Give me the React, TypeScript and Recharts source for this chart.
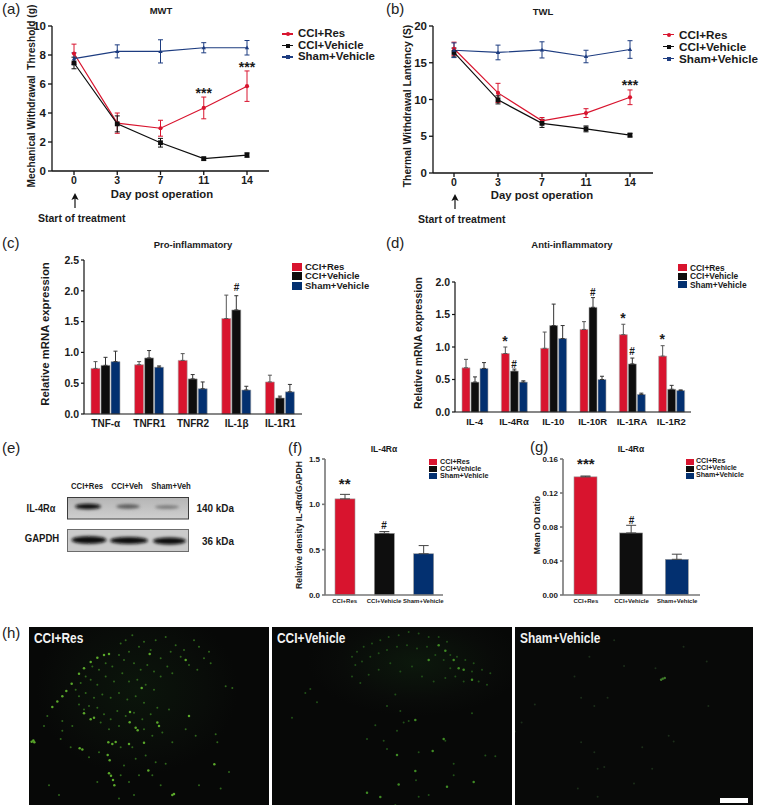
import {
  Bar,
  BarChart,
  ErrorBar,
  Line,
  LineChart,
  ReferenceDot,
  Scatter,
  ScatterChart,
  XAxis,
  YAxis,
} from 'recharts';

const FONT = '"Liberation Sans", Arial, sans-serif';
const RED = '#d8142e';
const BLACK = '#0e0e0e';
const NAVY = '#033070';
const LINE_NAVY = '#1d3c80';
const INK = '#1a1a1a';

const days = ['0', '3', '7', '11', '14'];

const mwtRes = [8.1, 3.3, 2.95, 4.35, 5.85];
const mwtResErr = [0.65, 0.7, 0.55, 0.75, 1.05];
const mwtVeh = [7.45, 3.25, 1.95, 0.85, 1.1];
const mwtVehErr = [0.4, 0.55, 0.3, 0.1, 0.15];
const mwtSham = [7.75, 8.25, 8.25, 8.5, 8.5];
const mwtShamErr = [0.4, 0.45, 0.8, 0.35, 0.5];

const twlRes = [16.9, 10.9, 7.1, 8.15, 10.3];
const twlResErr = [0.9, 1.3, 0.45, 0.6, 1.0];
const twlVeh = [16.4, 9.95, 6.75, 6.0, 5.15];
const twlVehErr = [0.6, 0.55, 0.55, 0.4, 0.25];
const twlSham = [16.7, 16.4, 16.75, 15.85, 16.8];
const twlShamErr = [1.0, 1.0, 1.1, 0.85, 1.2];

const proCats = ['TNF-α', 'TNFR1', 'TNFR2', 'IL-1β', 'IL-1R1'];
const proRes = [0.74, 0.8, 0.87, 1.55, 0.52];
const proResErr = [0.11, 0.05, 0.11, 0.38, 0.11];
const proVeh = [0.79, 0.91, 0.57, 1.69, 0.26];
const proVehErr = [0.13, 0.12, 0.07, 0.23, 0.03];
const proSham = [0.85, 0.76, 0.41, 0.39, 0.36];
const proShamErr = [0.17, 0.02, 0.11, 0.06, 0.12];

const antiCats = ['IL-4', 'IL-4Rα', 'IL-10', 'IL-10R', 'IL-1RA', 'IL-1R2'];
const antiRes = [0.68, 0.9, 0.98, 1.27, 1.19, 0.86];
const antiResErr = [0.13, 0.1, 0.25, 0.12, 0.16, 0.16];
const antiVeh = [0.46, 0.63, 1.33, 1.61, 0.74, 0.35];
const antiVehErr = [0.08, 0.03, 0.33, 0.15, 0.09, 0.06];
const antiSham = [0.67, 0.46, 1.13, 0.5, 0.27, 0.33];
const antiShamErr = [0.09, 0.02, 0.2, 0.05, 0.02, 0.01];

const groupCats = ['CCI+Res', 'CCI+Vehicle', 'Sham+Vehicle'];
const densityVals = [1.06, 0.68, 0.455];
const densityErr = [0.05, 0.02, 0.09];
const odVals = [0.139, 0.073, 0.042];
const odErr = [0.001, 0.009, 0.006];

const res1Bright = [
  [8, 348], [13, 344], [16, 350], [70, 243], [85, 226], [100, 210], [112, 194], [128, 172], [150, 142], [165, 125],
  [185, 106], [205, 93], [225, 85], [240, 82], [152, 368], [160, 372], [238, 350], [250, 355], [260, 349], [320, 306],
  [326, 313], [302, 289], [240, 444], [246, 451], [252, 464], [256, 480], [236, 388], [242, 404], [435, 507], [430, 510],
  [345, 351], [303, 258], [338, 185], [480, 270], [385, 290], [390, 300], [358, 435], [556, 416], [470, 100], [362, 82],
  [185, 280], [195, 275], [165, 262], [300, 355],
];
const res1Dim = [
  [275, 50], [290, 40], [310, 25], [330, 60], [345, 45], [365, 70], [380, 40], [395, 95], [410, 30], [425, 75],
  [440, 55], [455, 90], [465, 70], [480, 115], [495, 40], [510, 60], [525, 95], [540, 75], [545, 110], [505, 130],
  [270, 85], [285, 100], [300, 75], [315, 110], [335, 130], [355, 115], [375, 135], [395, 150], [415, 120], [430, 140],
  [250, 120], [230, 110], [210, 130], [190, 120], [170, 150], [155, 170], [140, 190], [185, 160], [205, 175], [230, 150],
  [255, 165], [280, 140], [300, 165], [325, 160], [350, 175], [375, 190], [150, 210], [170, 200], [195, 215], [220, 205],
  [245, 215], [270, 200], [295, 220], [320, 210], [345, 230], [150, 235], [165, 250], [180, 240], [205, 245], [225, 265],
  [245, 280], [265, 255], [290, 270], [315, 260], [340, 280], [365, 265], [385, 245], [215, 290], [240, 310], [270, 300],
  [345, 310], [370, 330], [400, 320], [430, 350], [470, 310], [500, 330], [560, 325], [565, 350], [590, 180], [610, 185],
  [130, 300], [95, 340], [100, 315], [125, 365], [180, 395], [210, 380], [275, 365], [310, 365], [285, 420], [320, 400],
  [350, 390], [380, 410], [410, 415], [275, 450], [300, 470], [330, 450], [370, 450], [395, 480], [315, 510], [270, 520],
  [60, 480], [90, 510], [205, 470], [510, 480], [575, 490], [600, 440], [100, 285], [45, 300], [55, 270], [420, 250],
];
const veh1Bright = [
  [430, 282], [515, 340], [380, 478], [430, 437], [470, 100], [520, 72], [545, 100], [575, 130], [600, 160], [375, 388],
  [482, 376], [285, 503], [325, 516], [525, 485], [605, 470], [500, 55], [560, 125],
];
const veh1Dim = [
  [240, 90], [255, 75], [275, 60], [300, 50], [325, 40], [350, 30], [380, 25], [410, 15], [440, 20], [470, 30],
  [500, 30], [525, 45], [250, 115], [270, 105], [295, 90], [320, 80], [345, 70], [375, 60], [405, 55], [435, 65],
  [465, 60], [490, 85], [515, 100], [535, 85], [555, 90], [580, 100], [605, 110], [630, 130], [655, 140], [535, 125],
  [550, 150], [575, 165], [600, 135], [620, 165], [645, 175], [520, 155], [240, 150], [265, 170], [290, 145], [320, 130],
  [355, 110], [385, 135], [420, 120], [450, 150], [485, 165], [370, 205], [345, 240], [385, 255], [410, 285], [395, 290],
  [310, 298], [285, 340], [335, 345], [375, 315], [345, 370], [432, 465], [440, 380], [545, 415], [520, 345], [370, 540],
  [115, 188], [100, 200], [60, 275], [135, 228], [600, 262], [640, 390], [670, 392], [545, 450], [440, 515], [470, 510],
];
const sham1Bright = [[447, 157], [442, 160], [453, 155]];
const sham1Dim = [
  [330, 118], [250, 430], [270, 425], [385, 365], [480, 347], [240, 380], [300, 40], [180, 150], [60, 235], [20, 290],
  [415, 430], [360, 475], [200, 350], [240, 240], [200, 215], [510, 60], [580, 105], [585, 240], [465, 330], [280, 215],
  [0, 317], [190, 490], [250, 515], [225, 90], [425, 125],
];

const rows = (a: number[], ae: number[], b: number[], be: number[], c: number[], ce: number[]) =>
  a.map((_, i) => ({ res: a[i], resErr: ae[i], veh: b[i], vehErr: be[i], sham: c[i], shamErr: ce[i] }));

const mwtData = rows(mwtRes, mwtResErr, mwtVeh, mwtVehErr, mwtSham, mwtShamErr).map((r, i) => ({ ...r, day: days[i] }));
const twlData = rows(twlRes, twlResErr, twlVeh, twlVehErr, twlSham, twlShamErr).map((r, i) => ({ ...r, day: days[i] }));
const proData = rows(proRes, proResErr, proVeh, proVehErr, proSham, proShamErr).map((r, i) => ({ ...r, cat: proCats[i] }));
const antiData = rows(antiRes, antiResErr, antiVeh, antiVehErr, antiSham, antiShamErr).map((r, i) => ({ ...r, cat: antiCats[i] }));
const densityData = groupCats.map((cat, i) => ({ cat, val: densityVals[i], err: densityErr[i], fill: [RED, BLACK, NAVY][i] }));
const odData = groupCats.map((cat, i) => ({ cat, val: odVals[i], err: odErr[i], fill: [RED, BLACK, NAVY][i] }));

const toPoints = (list: number[][]) => list.map(([x, y]) => ({ x, y }));

function T({ x, y, size = 11, anchor = 'left', children, color = INK, bold = true, rotate = false, sx = 1 }: any) {
  const shift = anchor === 'center' ? '-50%' : anchor === 'right' ? '-100%' : '0';
  const origin = anchor === 'center' ? '50% 50%' : anchor === 'right' ? '100% 50%' : '0 50%';
  return (
    <div
      style={{
        position: 'absolute',
        left: x,
        top: y,
        transform: rotate ? 'translate(-50%,-50%) rotate(-90deg)' : `translate(${shift},-50%) scaleX(${sx})`,
        transformOrigin: rotate ? '50% 50%' : origin,
        fontFamily: FONT,
        fontSize: size,
        fontWeight: bold ? 700 : 400,
        color,
        whiteSpace: 'pre',
        lineHeight: 1,
      }}
    >
      {children}
    </div>
  );
}

function PanelTag({ x, y, children }: any) {
  return (
    <T x={x} y={y} size={15} bold={false} color="#222">
      {children}
    </T>
  );
}

const seriesColors = [RED, BLACK, LINE_NAVY];
const legendNames = ['CCI+Res', 'CCI+Vehicle', 'Sham+Vehicle'];

function LineLegend({ iconX, textX, ys, size }: any) {
  return (
    <>
      {legendNames.map((name, i) => (
        <div key={name}>
          <div style={{ position: 'absolute', left: iconX, top: ys[i] - 0.75, width: 11, height: 1.5, background: seriesColors[i] }} />
          <div
            style={{
              position: 'absolute',
              left: iconX + 3.5,
              top: ys[i] - 2,
              width: 4,
              height: 4,
              borderRadius: i === 0 ? 2 : 0,
              background: seriesColors[i],
            }}
          />
          <T x={textX} y={ys[i]} size={size}>
            {name}
          </T>
        </div>
      ))}
    </>
  );
}

function SwatchLegend({ x, w, h, textX, ys, size }: any) {
  return (
    <>
      {legendNames.map((name, i) => (
        <div key={name}>
          <div
            style={{
              position: 'absolute',
              left: x,
              top: ys[i] - h / 2,
              width: w,
              height: h,
              background: [RED, BLACK, NAVY][i],
            }}
          />
          <T x={textX} y={ys[i]} size={size}>
            {name}
          </T>
        </div>
      ))}
    </>
  );
}

function StartArrow({ x, y }: any) {
  return (
    <svg style={{ position: 'absolute', left: x - 5, top: y, overflow: 'visible' }} width={10} height={16}>
      <line x1={5} y1={4} x2={5} y2={15} stroke="#111" strokeWidth={1.2} />
      <polygon points="5,0 1.4,7 5,5.6 8.6,7" fill="#111" />
    </svg>
  );
}

const circleDot = (color: string) => (p: any) => <circle key={p.index} cx={p.cx} cy={p.cy} r={2.1} fill={color} />;
const squareDot = (color: string) => (p: any) => <rect key={p.index} x={p.cx - 2.4} y={p.cy - 2.4} width={4.8} height={4.8} fill={color} />;
const triDot = (color: string) => (p: any) => (
  <polygon key={p.index} points={`${p.cx},${p.cy - 2.2} ${p.cx - 2.2},${p.cy + 1.6} ${p.cx + 2.2},${p.cy + 1.6}`} fill={color} />
);

const markLabel = (text: string, size: number, dx = 0) => (p: any) => (
  <text
    x={p.viewBox.x + dx}
    y={p.viewBox.y}
    textAnchor="middle"
    fontFamily={FONT}
    fontWeight={700}
    fontSize={size}
    fill={INK}
  >
    {text}
  </text>
);

function TimeCourse({ left, width, data, top, ticks, stars, padL, padR, marginRight }: any) {
  return (
    <div style={{ position: 'absolute', left, top: 0 }}>
      <LineChart
        width={width}
        height={215}
        data={data}
        margin={{ top: 26, right: marginRight, left: 12, bottom: top }}
      >
        <XAxis
          dataKey="day"
          padding={{ left: padL, right: padR }}
          height={30}
          tickSize={4}
          stroke="#111"
          strokeWidth={1.3}
          tick={{ fontFamily: FONT, fontSize: 10.5, fontWeight: 700, fill: INK }}
        />
        <YAxis
          width={40}
          domain={[ticks[0], ticks[ticks.length - 1]]}
          ticks={ticks}
          tickSize={4}
          stroke="#111"
          strokeWidth={1.3}
          tick={{ fontFamily: FONT, fontSize: 11.5, fontWeight: 700, fill: INK }}
        />
        <Line dataKey="res" stroke={RED} strokeWidth={1.2} dot={circleDot(RED)} isAnimationActive={false}>
          <ErrorBar dataKey="resErr" width={2.5} stroke={RED} strokeWidth={1} isAnimationActive={false} />
        </Line>
        <Line dataKey="veh" stroke={BLACK} strokeWidth={1.2} dot={squareDot(BLACK)} isAnimationActive={false}>
          <ErrorBar dataKey="vehErr" width={2.5} stroke={BLACK} strokeWidth={1} isAnimationActive={false} />
        </Line>
        <Line dataKey="sham" stroke={LINE_NAVY} strokeWidth={1.2} dot={triDot(LINE_NAVY)} isAnimationActive={false}>
          <ErrorBar dataKey="shamErr" width={2.5} stroke={LINE_NAVY} strokeWidth={1} isAnimationActive={false} />
        </Line>
        {stars.map((s: any) => (
          <ReferenceDot key={s.at} x={s.at} y={s.y} r={0} stroke="none" label={{ content: markLabel('***', 14) }} />
        ))}
      </LineChart>
    </div>
  );
}

function GroupedBars({ left, top, width, height, data, ticks, margin, barSize, tickSize, marks, step, catSize }: any) {
  return (
    <div style={{ position: 'absolute', left, top }}>
      <BarChart width={width} height={height} data={data} margin={margin} barSize={barSize} barGap={1}>
        <XAxis
          dataKey="cat"
          height={24}
          tickLine={false}
          tickMargin={0}
          interval={0}
          stroke="#111"
          strokeWidth={1.2}
          tick={{ fontFamily: FONT, fontSize: catSize, fontWeight: 700, fill: INK }}
        />
        <YAxis
          width={40}
          domain={[0, ticks[ticks.length - 1]]}
          ticks={ticks}
          tickSize={3}
          stroke="#111"
          strokeWidth={1.2}
          tickFormatter={(v: number) => v.toFixed(1)}
          tick={{ fontFamily: FONT, fontSize: tickSize, fontWeight: 700, fill: INK }}
        />
        <Bar dataKey="res" fill={RED} stroke="#a9a9a9" strokeWidth={0.6} isAnimationActive={false}>
          <ErrorBar dataKey={(d: any) => [0, d.resErr]} width={2} stroke="#555" strokeWidth={1} isAnimationActive={false} />
        </Bar>
        <Bar dataKey="veh" fill={BLACK} stroke="#a9a9a9" strokeWidth={0.6} isAnimationActive={false}>
          <ErrorBar dataKey={(d: any) => [0, d.vehErr]} width={2} stroke="#333" strokeWidth={1} isAnimationActive={false} />
        </Bar>
        <Bar dataKey="sham" fill={NAVY} stroke="#a9a9a9" strokeWidth={0.6} isAnimationActive={false}>
          <ErrorBar dataKey={(d: any) => [0, d.shamErr]} width={2} stroke="#333" strokeWidth={1} isAnimationActive={false} />
        </Bar>
        {marks.map((m: any) => (
          <ReferenceDot
            key={`${m.cat}${m.group}`}
            x={m.cat}
            y={m.y}
            r={0}
            stroke="none"
            label={{ content: markLabel(m.text, m.text === '#' ? 10 : 14, (m.group - 1) * step) }}
          />
        ))}
      </BarChart>
    </div>
  );
}

function SingleBars({ left, top, width, data, ticks, digits, margin, barSize, marks, axisColor }: any) {
  return (
    <div style={{ position: 'absolute', left, top }}>
      <BarChart width={width} height={175} data={data} margin={margin} barSize={barSize}>
        <XAxis
          dataKey="cat"
          height={20}
          tickLine={false}
          tickSize={0}
          tickMargin={4}
          interval={0}
          stroke={axisColor}
          strokeWidth={1.6}
          tick={{ fontFamily: FONT, fontSize: 6, fontWeight: 700, fill: INK }}
        />
        <YAxis
          width={40}
          domain={[0, ticks[ticks.length - 1]]}
          ticks={ticks}
          tickSize={3}
          stroke={axisColor}
          strokeWidth={1.6}
          tickFormatter={(v: number) => v.toFixed(digits)}
          tick={{ fontFamily: FONT, fontSize: 8, fontWeight: 700, fill: INK }}
        />
        <Bar dataKey="val" shape={(p: any) => <rect x={p.x} y={p.y} width={p.width} height={p.height} fill={p.payload.fill} stroke="#999" strokeWidth={0.6} />} isAnimationActive={false}>
          <ErrorBar dataKey={(d: any) => [0, d.err]} width={5} stroke="#444" strokeWidth={1} isAnimationActive={false} />
        </Bar>
        {marks.map((m: any) => (
          <ReferenceDot key={m.cat} x={m.cat} y={m.y} r={0} stroke="none" label={{ content: markLabel(m.text, m.text === '#' ? 10 : 15) }} />
        ))}
      </BarChart>
    </div>
  );
}

function Blot() {
  return (
    <svg style={{ position: 'absolute', left: 0, top: 0 }} width={300} height={600}>
      <defs>
        <filter id="blotBlur" x="-30%" y="-80%" width="160%" height="260%">
          <feGaussianBlur stdDeviation="1.4" />
        </filter>
        <linearGradient id="blotBg" x1="0" y1="0" x2="0" y2="1">
          <stop offset="0" stopColor="#b5b5b5" />
          <stop offset="1" stopColor="#cfcfcf" />
        </linearGradient>
      </defs>
      <rect x={67.5} y={497.5} width={121} height={21.5} fill="url(#blotBg)" stroke="#3c3c3c" strokeWidth={1} />
      <ellipse cx={88} cy={506.5} rx={13} ry={2.8} fill="#0d0d0d" filter="url(#blotBlur)" />
      <ellipse cx={128} cy={506.5} rx={12} ry={2.2} fill="#5a5a5a" filter="url(#blotBlur)" />
      <ellipse cx={167} cy={507} rx={12} ry={1.8} fill="#767676" filter="url(#blotBlur)" />
      <rect x={67.5} y={529.5} width={121} height={22} fill="#cbcbcb" stroke="#6c6c6c" strokeWidth={1} />
      <ellipse cx={89} cy={540} rx={17.5} ry={3.8} fill="#0a0a0a" filter="url(#blotBlur)" />
      <ellipse cx={129} cy={540.5} rx={19} ry={3.6} fill="#0a0a0a" filter="url(#blotBlur)" />
      <ellipse cx={169.5} cy={541} rx={16.5} ry={3.4} fill="#0a0a0a" filter="url(#blotBlur)" />
    </svg>
  );
}

const speck = (color: string, r: number) => (p: any) => <circle cx={p.cx} cy={p.cy} r={r} fill={color} />;

function Micrograph({ left, width, bright, dim, glow, label, sx, brightColor, dimColor }: any) {
  return (
    <div style={{ position: 'absolute', left, top: 627, width, height: 178, background: glow }}>
      <div style={{ filter: 'blur(0.3px)' }}>
        <ScatterChart width={width} height={178} margin={{ top: 0, right: 0, bottom: 0, left: 0 }}>
          <XAxis type="number" dataKey="x" domain={[0, 720]} hide />
          <YAxis type="number" dataKey="y" domain={[0, 540]} reversed hide />
          <Scatter data={toPoints(dim)} shape={speck(dimColor, 1)} isAnimationActive={false} />
          <Scatter data={toPoints(bright)} shape={speck(brightColor, 1.25)} isAnimationActive={false} />
        </ScatterChart>
      </div>
      <T x={4.5} y={11} size={14} color="#f2f2f2" sx={sx}>
        {label}
      </T>
    </div>
  );
}

export default function App() {
  return (
    <div style={{ position: 'relative', width: 760, height: 809, background: '#fff', overflow: 'hidden' }}>
      <style>{'body{margin:0}'}</style>

      {/* (a) */}
      <PanelTag x={2} y={8}>(a)</PanelTag>
      <T x={161} y={11} anchor="center" size={9.5}>MWT</T>
      <TimeCourse
        left={0}
        width={290}
        top={14}
        marginRight={21}
        data={mwtData}
        ticks={[0, 2, 4, 6, 8, 10]}
        padL={22}
        padR={22}
        stars={[{ at: '11', y: 5.05 }, { at: '14', y: 6.8 }]}
      />
      <T x={32} y={96} rotate size={10.2}>{'Mechanical Withdrawal  Threshold (g)'}</T>
      <T x={162} y={195} anchor="center" size={11.3}>Day post operation</T>
      <StartArrow x={74.5} y={193} />
      <T x={38} y={218} size={10.5}>Start of treatment</T>
      <LineLegend iconX={282} textX={298} ys={[34, 45.5, 57]} size={11.4} />

      {/* (b) */}
      <PanelTag x={386} y={8}>(b)</PanelTag>
      <T x={543} y={12} anchor="center" size={9.5}>TWL</T>
      <TimeCourse
        left={381}
        width={292}
        top={12}
        marginRight={20}
        data={twlData}
        ticks={[0, 5, 10, 15, 20]}
        padL={21}
        padR={23}
        stars={[{ at: '14', y: 11.35 }]}
      />
      <T x={408} y={106} rotate size={10.3}>Thermal Withdrawal Lantency (S)</T>
      <T x={542} y={196} anchor="center" size={11.3}>Day post operation</T>
      <StartArrow x={454.5} y={194} />
      <T x={418} y={219} size={10.5}>Start of treatment</T>
      <LineLegend iconX={663} textX={679} ys={[34.5, 46.5, 58.5]} size={11.7} />

      {/* (c) */}
      <PanelTag x={2} y={242}>(c)</PanelTag>
      <T x={193} y={245} anchor="center" size={9.5}>Pro-inflammatory</T>
      <GroupedBars
        left={0}
        top={230}
        width={320}
        height={210}
        data={proData}
        ticks={[0, 0.5, 1, 1.5, 2, 2.5]}
        margin={{ top: 30, right: 18, left: 44, bottom: 2 }}
        barSize={9}
        tickSize={10.5}
        catSize={10}
        step={10}
        marks={[{ cat: 'IL-1β', group: 1, y: 2.0, text: '#' }]}
      />
      <T x={46} y={334} rotate size={11.3}>Relative mRNA expression</T>
      <SwatchLegend x={292} w={10} h={8} textX={305} ys={[266.5, 276, 285.5]} size={9.5} />

      {/* (d) */}
      <PanelTag x={386} y={242}>(d)</PanelTag>
      <T x={572} y={245} anchor="center" size={9.5}>Anti-inflammatory</T>
      <GroupedBars
        left={380}
        top={230}
        width={320}
        height={210}
        data={antiData}
        ticks={[0, 0.5, 1, 1.5, 2]}
        margin={{ top: 52, right: 9, left: 35, bottom: 4 }}
        barSize={8}
        tickSize={10.5}
        catSize={9.5}
        step={9}
        marks={[
          { cat: 'IL-4Rα', group: 0, y: 1.02, text: '*' },
          { cat: 'IL-4Rα', group: 1, y: 0.68, text: '#' },
          { cat: 'IL-10R', group: 1, y: 1.78, text: '#' },
          { cat: 'IL-1RA', group: 0, y: 1.37, text: '*' },
          { cat: 'IL-1RA', group: 1, y: 0.88, text: '#' },
          { cat: 'IL-1R2', group: 0, y: 1.04, text: '*' },
        ]}
      />
      <T x={419} y={343} rotate size={10.4}>Relative mRNA expression</T>
      <SwatchLegend x={678} w={9} h={7} textX={690} ys={[267.5, 276, 284.5]} size={8.4} />

      {/* (e) */}
      <PanelTag x={2} y={447}>(e)</PanelTag>
      <Blot />
      <T x={87} y={486} anchor="center" size={8.6} sx={0.9}>CCI+Res</T>
      <T x={127} y={486} anchor="center" size={8.6} sx={0.9}>CCI+Veh</T>
      <T x={171} y={486} anchor="center" size={8.6} sx={0.9}>Sham+Veh</T>
      <T x={41} y={508} anchor="center" size={10.5} sx={0.88}>IL-4Rα</T>
      <T x={42} y={539} anchor="center" size={11.5} sx={0.83}>GAPDH</T>
      <T x={234} y={508} anchor="right" size={11} sx={0.9}>140 kDa</T>
      <T x={234} y={541} anchor="right" size={11} sx={0.9}>36 kDa</T>

      {/* (f) */}
      <PanelTag x={288} y={447}>(f)</PanelTag>
      <T x={384} y={449} anchor="center" size={8.5}>IL-4Rα</T>
      <SingleBars
        left={283}
        top={440}
        width={170}
        data={densityData}
        ticks={[0, 0.5, 1, 1.5]}
        digits={1}
        margin={{ top: 19, right: 10, left: 2, bottom: 0 }}
        barSize={20}
        axisColor="#777"
        marks={[{ cat: 'CCI+Res', y: 1.17, text: '**' }, { cat: 'CCI+Vehicle', y: 0.73, text: '#' }]}
      />
      <T x={299} y={525} rotate size={8.6}>Relative density IL-4Rα/GAPDH</T>
      <SwatchLegend x={429} w={8} h={6} textX={440} ys={[461.5, 468.7, 475.9]} size={7.2} />

      {/* (g) */}
      <PanelTag x={530} y={446}>(g)</PanelTag>
      <T x={631} y={449} anchor="center" size={8.5}>IL-4Rα</T>
      <SingleBars
        left={521}
        top={440}
        width={190}
        data={odData}
        ticks={[0, 0.04, 0.08, 0.12, 0.16]}
        digits={2}
        margin={{ top: 19, right: 11, left: 2, bottom: 0 }}
        barSize={23}
        axisColor="#777"
        marks={[{ cat: 'CCI+Res', y: 0.148, text: '***' }, { cat: 'CCI+Vehicle', y: 0.084, text: '#' }]}
      />
      <T x={537} y={525} rotate size={8.6}>Mean OD ratio</T>
      <SwatchLegend x={686} w={8} h={6} textX={696} ys={[462, 469.1, 476.2]} size={7.1} />

      {/* (h) */}
      <PanelTag x={2} y={632}>(h)</PanelTag>
      <Micrograph
        left={29}
        width={240}
        bright={res1Bright}
        dim={res1Dim}
        label="CCI+Res"
        sx={0.85}
        brightColor="#5aa82a"
        dimColor="#2f661c"
        glow="radial-gradient(ellipse 42% 48% at 45% 35%, #0b150b 0%, #090c09 70%, #070807 100%)"
      />
      <Micrograph
        left={272}
        width={240}
        bright={veh1Bright}
        dim={veh1Dim}
        label="CCI+Vehicle"
        sx={0.85}
        brightColor="#3f8a24"
        dimColor="#215018"
        glow="radial-gradient(ellipse 45% 30% at 60% 20%, #0c180c 0%, #090b09 70%, #070807 100%)"
      />
      <Micrograph
        left={515}
        width={238}
        bright={sham1Bright}
        dim={sham1Dim}
        label="Sham+Vehicle"
        sx={0.85}
        brightColor="#3f7a2a"
        dimColor="#1c2e1a"
        glow="#080908"
      />
      <div style={{ position: 'absolute', left: 720, top: 798, width: 28, height: 4.5, background: '#fff' }} />
    </div>
  );
}
